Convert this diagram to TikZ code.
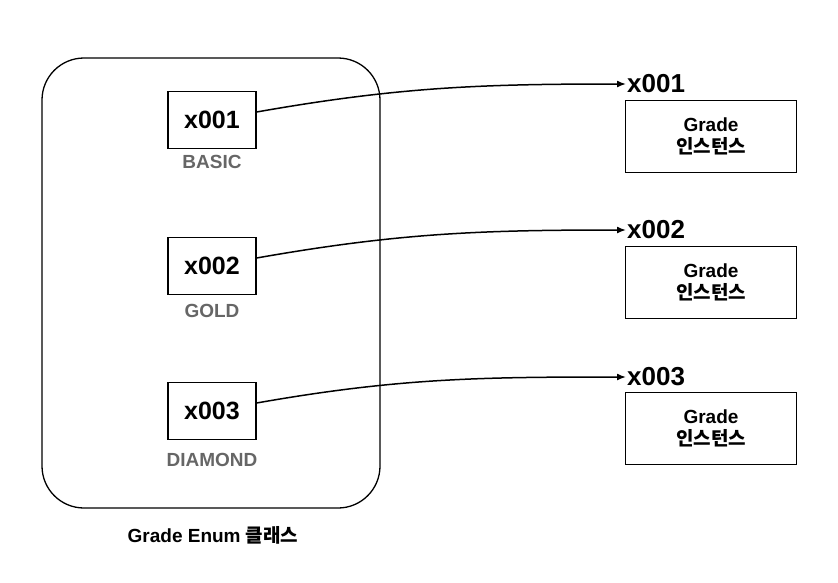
\documentclass[tikz,border=0pt]{standalone}
\usepackage{fontspec}
\setmainfont{Liberation Sans}
\newfontfamily\kr{Noto Sans CJK KR}
\usetikzlibrary{arrows.meta}
\begin{document}
\begin{tikzpicture}[x=1pt,y=-1pt,
  ptr/.style={draw,line width=1.2pt,minimum width=88pt,minimum height=57pt,font=\fontsize{25}{30}\selectfont\bfseries},
  enumlbl/.style={text=black!60,font=\fontsize{19}{22}\selectfont\bfseries},
  inst/.style={draw,line width=0.6pt,minimum width=171pt,minimum height=72pt,align=center,font=\fontsize{19}{22}\selectfont\bfseries},
  addr/.style={font=\fontsize{26}{30}\selectfont\bfseries,inner sep=1pt,anchor=west},
  link/.style={line width=1.5pt,-{Latex[length=9pt,width=7pt]}}]
\useasboundingbox (0,0) rectangle (838,582);
\node[draw,line width=1.3pt,rounded corners=42pt,minimum width=338pt,minimum height=450pt] (enum) at (211,283) {};
\node[font=\fontsize{19}{22}\selectfont\bfseries] (cap) at (213,535) {Grade Enum {\kr 클래스}};
\node[ptr] (a) at (212,120) {x001};
\node[ptr] (b) at (212,266) {x002};
\node[ptr] (c) at (212,411) {x003};
\node[enumlbl] (la) at (212,162) {BASIC};
\node[enumlbl] (lb) at (212,311) {GOLD};
\node[enumlbl] (lc) at (212,460) {DIAMOND};
\node[inst] (ia) at (711,136) {Grade\\{\kr 인스턴스}};
\node[inst] (ib) at (711,282) {Grade\\{\kr 인스턴스}};
\node[inst] (ic) at (711,428) {Grade\\{\kr 인스턴스}};
\node[addr] (xa) at (626,84) {x001};
\node[addr] (xb) at (626,230) {x002};
\node[addr] (xc) at (626,377) {x003};
\draw[link] ([yshift=8pt]a.east) to[out=10,in=180] (xa.west);
\draw[link] ([yshift=8pt]b.east) to[out=10,in=180] (xb.west);
\draw[link] ([yshift=8pt]c.east) to[out=10,in=180] (xc.west);
\end{tikzpicture}
\end{document}
